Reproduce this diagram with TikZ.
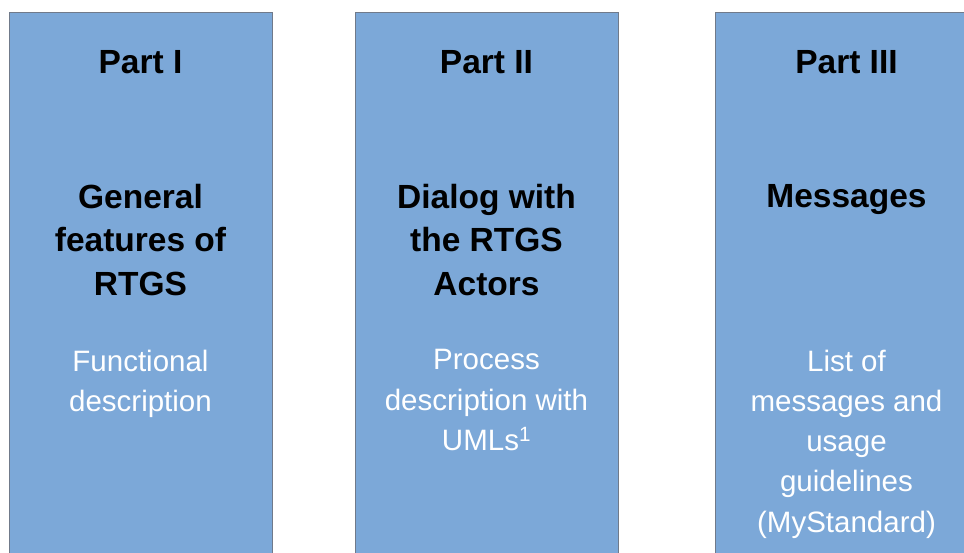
\documentclass[tikz,border=0pt]{standalone}
\usepackage{fontspec}
\setmainfont{Liberation Sans}
\definecolor{partblue}{RGB}{124,168,216}
\definecolor{partedge}{RGB}{112,122,138}
\tikzset{
  partbox/.style={draw=partedge, fill=partblue, line width=0.9pt, anchor=north west, minimum width=263pt, minimum height=560pt, inner sep=0pt},
  parthead/.style={font=\fontsize{33.5}{43.5}\selectfont\bfseries, anchor=north, align=center, inner sep=0pt},
  partsub/.style={font=\fontsize{29.5}{40.3}\selectfont, text=white, anchor=north, align=center, inner sep=0pt}
}
\begin{document}
\begin{tikzpicture}[x=1pt,y=-1pt]
                \useasboundingbox (0,0) rectangle (964,553);
                \clip (0,0) rectangle (964,553);
                % the three parts
                \node[partbox] (box1) at (9,12) {};
                \node[partbox] (box2) at (355,12) {};
                \node[partbox] (box3) at (715,12) {};
                \node[parthead] (title1) at (140.5,50.5) {Part I};
                \node[parthead] (title2) at (486.5,50.5) {Part II};
                \node[parthead] (title3) at (846.5,50.5) {Part III};
                \node[parthead] (head1) at (140.5,184) {General\\features of\\RTGS};
                \node[parthead] (head2) at (486.5,184) {Dialog with\\the RTGS\\Actors};
                \node[parthead] (head3) at (846.5,184) {Messages};
                \node[partsub] (sub1) at (140.5,349.5) {Functional\\description};
                \node[partsub] (sub2) at (486.5,349.5) {Process\\description with\\UMLs\textsuperscript{1}};
                \node[partsub] (sub3) at (846.5,349.5) {List of\\messages and\\usage\\guidelines\\(MyStandard)};
            \end{tikzpicture}
\end{document}
